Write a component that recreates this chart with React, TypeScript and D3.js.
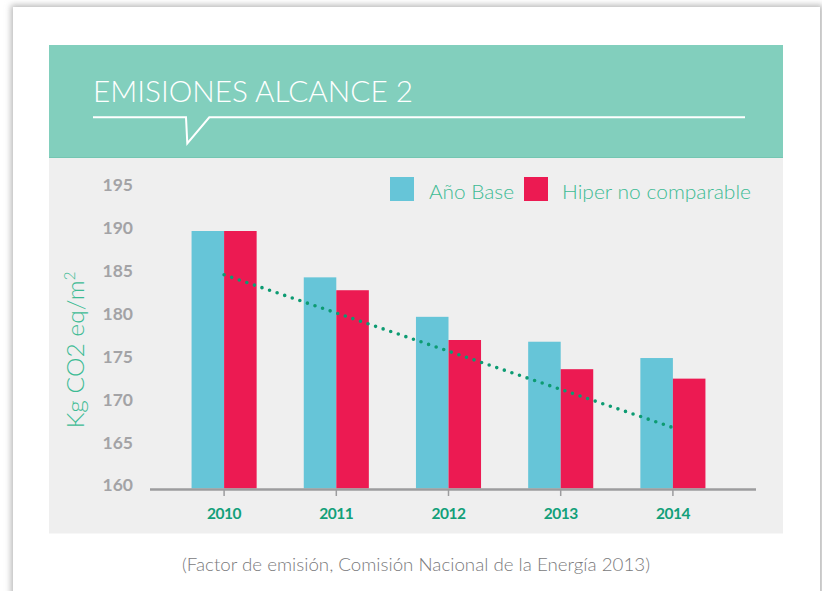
import React from "react";
import * as d3 from "d3";

const years = ["2010", "2011", "2012", "2013", "2014"];
const anoBase = [190.0, 184.6, 180.0, 177.1, 175.2];
const hiperNoComparable = [190.0, 183.1, 177.3, 173.9, 172.8];
const trendYears = ["2010", "2014"];
const trendValues = [184.9, 167.1];
const yTicks = [160, 165, 170, 175, 180, 185, 190, 195];
const seriesNames = ["Año Base", "Hiper no comparable"];

const W = 822;
const H = 591;
const COL_BASE = "#66c5d8";
const COL_HIPER = "#ec1a52";
const COL_HEAD = "#82cfbd";
const COL_GREEN = "#12a079";
const COL_LEG = "#3dbb94";
const FONT = "Lato, 'Open Sans', sans-serif";

export default function App() {
  const y = d3.scaleLinear().domain([160, 190]).range([488.5, 231]);
  const x = d3
    .scaleBand<string>()
    .domain(years)
    .range([168, 729])
    .paddingInner(0.42)
    .paddingOuter(0.21);
  const bw = x.bandwidth() / 2;
  const axisY = 489.5;

  const trendLine = d3
    .line<number>()
    .x((_, i) => (x(trendYears[i]) as number) + x.bandwidth() / 2)
    .y((d) => y(d));

  return (
    <svg
      width={W}
      height={H}
      style={{ position: "absolute", left: 0, top: 0, background: "#ffffff" }}
    >
      <defs>
        <filter id="sh" x="-5%" y="-5%" width="110%" height="110%">
          <feGaussianBlur stdDeviation="3" />
        </filter>
      </defs>
      {/* card with shadow */}
      <rect x={11} y={5} width={812} height={600} fill="#b8b8b8" filter="url(#sh)" />
      <rect x={13} y={7} width={807} height={600} fill="#ffffff" />

      {/* header */}
      <rect x={49} y={45} width={734} height={113} fill={COL_HEAD} />
      <rect x={49} y={157} width={734} height={1} fill="#74c6b2" />
      <text
        x={93}
        y={101.5}
        fill="#ffffff"
        fontFamily={FONT}
        fontWeight={300}
        fontSize={29}
        textLength={320}
        lengthAdjust="spacingAndGlyphs"
      >
        EMISIONES ALCANCE 2
      </text>
      <path
        d="M93,117.3 L186,117.3 L187.3,143.3 L209.3,117.3 L745,117.3"
        fill="none"
        stroke="#ffffff"
        strokeWidth={2}
      />

      {/* gray plot area */}
      <rect x={49} y={158} width={734} height={375.5} fill="#efefef" />

      {/* y tick labels */}
      {yTicks.map((t) => (
        <text
          key={t}
          x={133}
          y={y(t) - 1.5}
          textAnchor="end"
          dominantBaseline="middle"
          fill="#a3a3a6"
          fontFamily={FONT}
          fontWeight={700}
          fontSize={17.5}
        >
          {t}
        </text>
      ))}

      {/* y axis title */}
      <text
        transform={`translate(84,350) rotate(-90)`}
        textAnchor="middle"
        fill={COL_LEG}
        fontFamily={FONT}
        fontWeight={300}
        fontSize={23}
      >
        <tspan textLength={148} lengthAdjust="spacingAndGlyphs">Kg CO2 eq/m</tspan>
        <tspan dy={-9} fontSize={15}>
          2
        </tspan>
      </text>

      {/* bars */}
      {years.map((yr, i) => (
        <g key={yr}>
          <rect
            x={x(yr) as number}
            y={y(anoBase[i])}
            width={bw}
            height={y(160) - y(anoBase[i])}
            fill={COL_BASE}
          />
          <rect
            x={(x(yr) as number) + bw}
            y={y(hiperNoComparable[i])}
            width={bw}
            height={y(160) - y(hiperNoComparable[i])}
            fill={COL_HIPER}
          />
        </g>
      ))}

      {/* x axis */}
      <line x1={150} x2={756} y1={axisY} y2={axisY} stroke="#9c9c9e" strokeWidth={2.5} />
      {years.map((yr) => {
        const cx = (x(yr) as number) + x.bandwidth() / 2;
        return (
          <g key={yr}>
            <line x1={cx} x2={cx} y1={axisY} y2={496} stroke="#9c9c9e" strokeWidth={1.5} />
            <text
              x={cx}
              y={519}
              textAnchor="middle"
              fill={COL_GREEN}
              fontFamily={FONT}
              fontWeight={700}
              fontSize={15.5}
              letterSpacing={-0.5}
            >
              {yr}
            </text>
          </g>
        );
      })}

      {/* trend line */}
      <path
        d={trendLine(trendValues) as string}
        fill="none"
        stroke="#0d9b72"
        strokeWidth={3.6}
        strokeLinecap="round"
        strokeDasharray="0 8"
      />

      {/* legend */}
      <rect x={390} y={177} width={24} height={24} fill={COL_BASE} />
      <text
        x={429}
        y={199}
        fill={COL_LEG}
        fontFamily={FONT}
        fontWeight={300}
        fontSize={20.5}
        textLength={85}
        lengthAdjust="spacingAndGlyphs"
      >
        {seriesNames[0]}
      </text>
      <rect x={524} y={177} width={24} height={24} fill={COL_HIPER} />
      <text
        x={562}
        y={199}
        fill={COL_LEG}
        fontFamily={FONT}
        fontWeight={300}
        fontSize={20.5}
        textLength={189}
        lengthAdjust="spacingAndGlyphs"
      >
        {seriesNames[1]}
      </text>

      {/* caption */}
      <text
        x={182}
        y={571}
        fill="#7a7a7c"
        fontFamily={FONT}
        fontWeight={300}
        fontSize={18}
        textLength={468}
        lengthAdjust="spacingAndGlyphs"
      >
        (Factor de emisión, Comisión Nacional de la Energía 2013)
      </text>
    </svg>
  );
}
